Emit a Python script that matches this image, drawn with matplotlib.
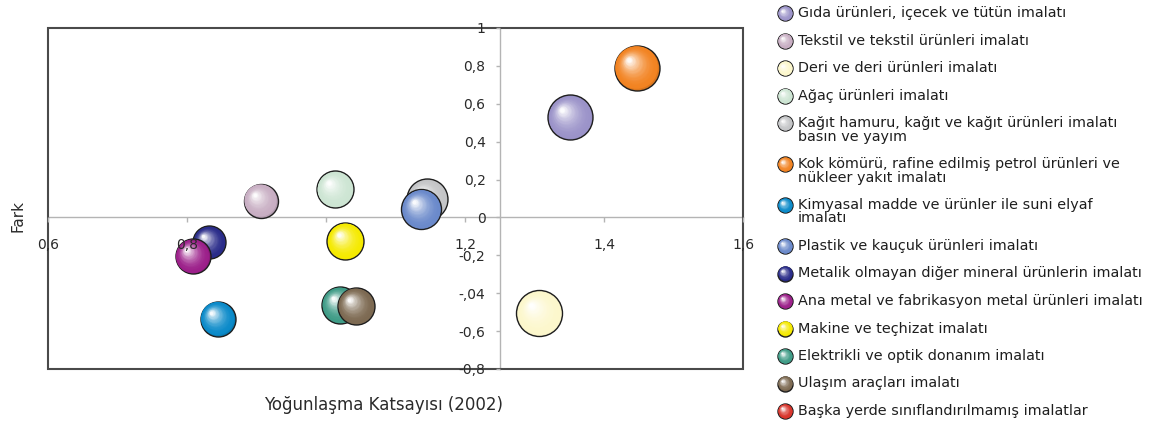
import numpy as np
import matplotlib
matplotlib.use("Agg")
import matplotlib.pyplot as plt
from matplotlib import colors as mcolors
from matplotlib import transforms
from matplotlib.patches import Rectangle
from matplotlib.ticker import FixedLocator, FixedFormatter

plt.rcParams["font.family"] = ["DejaVu Sans"]

# Sectors (legend order = drawing order)
sectors = [
    "Gıda ürünleri, içecek ve tütün imalatı",
    "Tekstil ve tekstil ürünleri imalatı",
    "Deri ve deri ürünleri imalatı",
    "Ağaç ürünleri imalatı",
    "Kağıt hamuru, kağıt ve kağıt ürünleri imalatı\nbasın ve yayım",
    "Kok kömürü, rafine edilmiş petrol ürünleri ve\nnükleer yakıt imalatı",
    "Kimyasal madde ve ürünler ile suni elyaf\nimalatı",
    "Plastik ve kauçuk ürünleri imalatı",
    "Metalik olmayan diğer mineral ürünlerin imalatı",
    "Ana metal ve fabrikasyon metal ürünleri imalatı",
    "Makine ve teçhizat imalatı",
    "Elektrikli ve optik donanım imalatı",
    "Ulaşım araçları imalatı",
    "Başka yerde sınıflandırılmamış imalatlar",
]
# Yoğunlaşma katsayısı (2002)
katsayi = [1.351, 0.906, 1.307, 1.013, 1.146, 1.447, 0.844, 1.137, 0.832, 0.808, 1.028, 1.020, 1.043, np.nan]
# Fark
fark = [0.528, 0.088, -0.506, 0.148, 0.096, 0.790, -0.535, 0.044, -0.131, -0.204, -0.125, -0.462, -0.468, np.nan]
# bubble size (relative)
buyukluk = [45, 34, 46, 37, 41, 45, 35, 40, 33, 35, 37, 37, 37, np.nan]
renkler = ["#9b93c9", "#c8aec3", "#fcf7cc", "#cde5d3", "#c4c5c7", "#f28321", "#0a8ac9",
           "#6b8acb", "#2a2c8a", "#9c1f8a", "#f5ea00", "#3f9c87", "#7d6a52", "#d9342b"]

x_ticks = [0.6, 0.8, 1.0, 1.2, 1.4, 1.6]
x_tick_labels = ["0,6", "0,8", "", "1,2", "1,4", "1,6"]
y_ticks = [1, 0.8, 0.6, 0.4, 0.2, 0, -0.2, -0.4, -0.6, -0.8]
y_tick_labels = ["1", "0,8", "0,6", "0,4", "0,2", "0", "-0,2", "-,04", "-0,6", "-0,8"]

W, H = 1154, 424
fig = plt.figure(figsize=(W / 100, H / 100), dpi=100)
fig.patch.set_facecolor("white")


def shaded_bubble(ax, x, y, diam, color, zorder, base_transform):
    """Draw a pseudo-3D sphere: outlined circle plus lighter layers toward upper-left."""
    base = np.array(mcolors.to_rgb(color))
    dark = base * 0.9
    r = diam / 2.0
    ax.scatter([x], [y], s=diam ** 2, color=[dark], edgecolors="#1e1e1e",
               linewidths=1.0, zorder=zorder, transform=base_transform)
    n = 24
    for k in range(n):
        t = k / (n - 1)
        f = 0.95 - 0.85 * t
        off = 0.55 * (1 - f) * r / np.sqrt(2)
        c = base + (1 - base) * (t ** 2.0) * 0.96
        tr = transforms.offset_copy(base_transform, fig=fig, x=-off, y=off, units="points")
        ax.scatter([x], [y], s=(diam * f) ** 2, color=[np.clip(c, 0, 1)], linewidths=0,
                   zorder=zorder + 0.01 * (k + 1), transform=tr)


# main axes
ax = fig.add_axes([48 / W, 1 - 369 / H, (743 - 48) / W, (369 - 28) / H])
ax.set_xlim(0.6, 1.6)
ax.set_ylim(-0.8, 1.0)

for side in ["top", "right"]:
    ax.spines[side].set_visible(False)
ax.spines["left"].set_position(("data", 1.25))
ax.spines["bottom"].set_position(("data", 0))
for side in ["left", "bottom"]:
    ax.spines[side].set_color("#b4b4b4")
    ax.spines[side].set_linewidth(1.0)
    ax.spines[side].set_zorder(1)

ax.add_patch(Rectangle((0, 0), 1, 1, transform=ax.transAxes, fill=False,
                       edgecolor="#4a4a4a", linewidth=1.5, zorder=2, clip_on=False))

ax.xaxis.set_major_locator(FixedLocator(x_ticks))
ax.xaxis.set_major_formatter(FixedFormatter(x_tick_labels))
ax.yaxis.set_major_locator(FixedLocator(y_ticks))
ax.yaxis.set_major_formatter(FixedFormatter(y_tick_labels))
ax.tick_params(axis="x", direction="out", length=3.5, width=1, color="#b4b4b4",
               pad=11, labelsize=10, labelcolor="#2a2a2a")
ax.tick_params(axis="y", direction="out", length=3.2, width=1, color="#b4b4b4",
               pad=7, labelsize=10, labelcolor="#2a2a2a")
ax.xaxis.set_zorder(20)
ax.yaxis.set_zorder(20)

px_to_pt = 0.72
for i in range(len(sectors)):
    if np.isnan(katsayi[i]):
        continue
    shaded_bubble(ax, katsayi[i], fark[i], buyukluk[i] * px_to_pt, renkler[i],
                  3 + i, ax.transData)

fig.text(384 / W, 1 - 405 / H, "Yoğunlaşma Katsayısı (2002)", ha="center", va="center",
         fontsize=12, color="#2a2a2a")
fig.text(18 / W, 1 - 216 / H, "Fark", ha="center", va="center", rotation=90,
         fontsize=11, color="#2a2a2a")

# legend drawn in a pixel-space overlay
lax = fig.add_axes([0, 0, 1, 1])
lax.set_xlim(0, W)
lax.set_ylim(H, 0)
lax.axis("off")
row_y = 13.3
for i, name in enumerate(sectors):
    shaded_bubble(lax, 785, row_y, 15 * px_to_pt, renkler[i], 3, lax.transData)
    lines = name.split("\n")
    for j, line in enumerate(lines):
        lax.text(798, row_y + j * 13.4, line, ha="left", va="center",
                 fontsize=10.4, color="#1e1e1e")
    row_y += 27.5 + 13.4 * (len(lines) - 1)

fig.savefig("out.png", dpi=100)
